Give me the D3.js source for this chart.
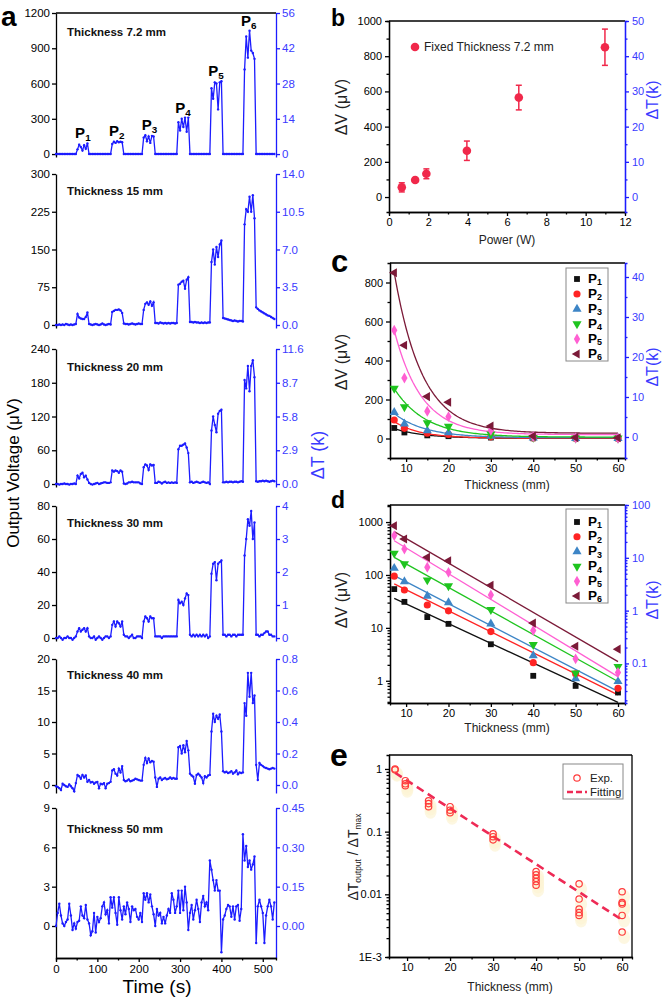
<!DOCTYPE html>
<html><head><meta charset="utf-8">
<script src="https://cdn.jsdelivr.net/npm/d3@7"></script>
<style>body{margin:0;background:#fff} svg{display:block} text{font-family:"Liberation Sans",Arial,sans-serif}</style>
</head><body><svg id="c" width="662" height="1000"></svg>
<script>
// ---------------- DATA ----------------
// panel a: output voltage (µV), one sample every timeStep seconds
const timeStep = 4;
const thicknessA = ["7.2", "15", "20", "30", "40", "50"];
const v72 = [0,0,0,0,0,0,0,0,0,0,0,0,0,
  40,80,60,30,75,45,90,
  0,0,0,0,0,0,0,0,0,0,0,0,0,0,
  85,105,95,110,100,105,100,
  0,0,0,0,0,0,0,0,0,0,0,0,
  140,160,110,150,95,155,150,
  0,0,0,0,0,0,0,0,0,0,0,0,0,0,
  270,200,300,230,310,190,310,
  0,0,0,0,0,0,0,0,0,0,0,0,0,
  560,470,610,600,380,610,620,
  0,0,0,0,0,0,0,0,0,0,0,0,0,
  720,1000,820,1050,880,860,810,
  0,0,0,0,0,0,0,0,0,0,0,0];
const v15 = [0,0,1,0,1,0,2,1,0,1,0,1,2,
  22,15,13,12,12,16,25,
  2,1,0,1,2,1,0,1,3,1,0,1,2,1,
  26,28,30,30,31,29,24,
  3,2,2,1,2,3,2,1,2,3,2,2,
  30,42,45,40,47,38,45,
  4,4,3,5,4,3,4,3,4,3,4,4,3,4,
  80,82,86,88,72,90,95,
  6,6,5,6,5,5,4,5,4,5,4,5,5,
  125,150,120,155,135,160,168,
  14,13,12,11,10,9,8,9,8,7,8,8,7,
  200,230,225,255,225,258,212,
  35,32,29,27,25,23,21,19,18,16,14,12];
const v20 = [0,0,-1,0,0,1,0,0,-1,0,0,1,0,
  15,10,18,20,12,15,8,
  2,0,-1,0,1,2,0,1,2,3,3,2,2,3,
  24,22,24,23,20,24,22,
  1,0,1,3,3,4,3,3,3,3,1,0,
  30,35,33,25,35,33,34,
  2,2,4,3,1,3,4,2,3,2,3,2,3,2,
  62,68,68,70,72,65,55,
  3,4,2,3,4,3,2,3,4,3,2,3,0,
  95,120,105,92,125,130,132,
  3,3,4,3,4,4,3,4,4,3,4,5,4,
  185,170,210,165,210,220,190,
  5,4,5,5,6,5,6,5,4,5,6,5];
const v30 = [0,0,1,0,-1,0,0,1,0,0,-1,0,1,
  4,6,4,5,6,4,6,
  1,0,0,1,-1,0,1,0,-1,0,1,1,0,1,
  8,10,7,10,9,7,10,
  2,1,1,0,1,2,0,0,1,1,1,0,
  10,13,12,10,13,12,12,
  1,1,1,1,0,1,1,1,1,1,1,1,1,1,
  23,21,22,20,24,27,26,
  2,1,2,1,2,1,2,1,2,1,2,0,1,
  39,45,46,35,45,46,47,
  2,2,1,2,2,1,2,2,1,2,2,2,2,
  50,60,72,68,77,60,70,
  2,2,1,2,2,3,4,4,2,2,1,1];
const v40 = [-0.2,-0.3,-0.5,-0.8,0.2,0,-0.2,-0.3,0.1,-0.2,-0.5,-1.0,0.3,
  1.6,1.4,1.0,1.6,1.2,1.5,0.5,
  0.8,0.4,0.5,0.2,0.4,0.5,-0.5,0.2,0.1,0.3,-0.5,0.2,0.3,0.5,
  2.3,2.5,1.8,1.5,2.6,2.0,3.0,
  0.8,0.6,0.7,0.9,0.6,0.7,0.8,1.0,0.9,0.8,0.7,0.7,
  3.2,4.3,3.5,4.2,3.6,3.8,3.7,
  1.2,-0.3,1.0,1.2,0.8,1.0,1.1,0.9,1.0,1.2,1.0,1.1,1.0,1.0,
  6.0,6.2,5.0,6.3,5.2,7.0,5.5,
  1.8,1.5,1.3,0.2,1.6,1.8,1.5,1.2,0.3,1.4,1.2,1.5,1.6,
  8.5,11.3,10.0,11.0,10.5,11.2,8.5,
  2.2,2.0,2.1,1.9,2.0,2.2,1.8,2.0,2.3,1.7,2.0,1.9,2.0,
  13,11,17.8,14,17.8,13,14.2,
  3.2,0.8,3.5,3.2,3.0,2.8,2.7,2.6,2.5,2.6,2.7,2.6];
const v50 = [0.0,1.0,1.7,0.8,0.2,0.0,0.3,0.5,1.7,0.8,-0.3,0.2,-0.2,0.3,0.4,1.5,0.8,0.6,1.6,0.5,
  0.2,-0.7,-0.4,1.0,-0.5,0.7,0.3,0.6,1.5,1.8,0.9,1.2,0.2,2.2,1.4,2.2,1.0,0.1,2.2,1.2,
  0.5,1.5,0.9,1.8,1.3,0.3,1.5,1.2,1.3,0.7,0.5,1.0,0.3,2.5,2.0,2.5,1.8,2.4,1.5,0.9,
  0.0,1.3,0.8,1.0,0.2,0.7,0.2,0.8,1.3,1.0,2.5,2.0,1.0,1.5,2.7,1.0,2.7,1.2,3.0,1.8,
  -0.3,1.0,1.6,0.5,1.2,2.0,1.3,0.3,1.8,2.3,1.5,1.8,1.2,5.0,4.3,3.5,2.7,3.5,2.7,2.7,
  -2.0,0.5,0.8,1.3,1.6,1.5,0.7,1.5,0.5,1.5,1.6,0.4,1.3,7.0,5.0,6.1,4.5,5.0,4.3,4.7,
  5.3,-1.3,1.5,2.0,1.5,1.0,-1.3,0.8,1.5,2.0,1.5,0.5,1.8];
const leftTicksA = [[0,300,600,900,1200],[0,75,150,225,300],[0,60,120,180,240],[0,20,40,60,80],[0,5,10,15,20],[0,3,6,9]];
const rightTicksA = [[0,14,28,42,56],[0,3.5,7,10.5,14],[0,2.9,5.8,8.7,11.6],[0,1,2,3,4],[0,0.2,0.4,0.6,0.8],[0,0.15,0.3,0.45]];
const peakNames = ["1","2","3","4","5","6"];
const peakTimes = [65,147,226,307,387,466];
const timeTicks = [0,100,200,300,400,500];

// panel b
const powerW = [0.65,1.33,1.9,3.96,6.6,10.98];
const dVpower = [55,97,132,263,565,851];
const dVerr = [26,12,28,55,70,103];

// panels c, d
const thickness = [7.2,9.6,15,20,30,40,50,60];
const seriesNames = ["P1","P2","P3","P4","P5","P6"];
const dV_P1 = [54,31,16,11.9,4.9,1.24,0.8,0.6];
const dV_P2 = [95,52,27,21,8.5,2.2,1.35,0.72];
const dV_P3 = [134,75,40,30,11.9,3.0,1.1,0.97];
const dV_P4 = [257,162,80,62,22,4.8,1.4,1.86];
const dV_P5 = [555,310,140,112,42,8.9,2.6,1.43];
const dV_P6 = [850,478,215,186,64,12.3,4.5,3.96];
// exponential-decay fits in c: y0 + A*exp(-(x-7.2)/t)
const fitC_y0 = [1,2,4,7,20,27];
const fitC_A = [50,85,124,249,534,823];
const fitC_t = [7,6,7.3,7.4,6.4,6.6];
// straight fits in d (log scale): value at 7.2 mm and at 60 mm
const fitD_start = [36,68,97,215,444,660];
const fitD_end = [0.39,0.54,0.63,0.97,1.2,2.3];

// panel e
const expThick = [7.2,7.2,9.6,9.6,9.6,15,15,15,20,20,20,30,30,30,40,40,40,40,40,50,50,50,50,50,60,60,60,60,60];
const expRatio = [1.0,0.97,0.65,0.58,0.54,0.31,0.28,0.25,0.25,0.22,0.2,0.092,0.083,0.074,0.023,0.0204,0.018,0.016,0.014,0.0147,0.0084,0.0058,0.0051,0.0046,0.011,0.0074,0.007,0.0046,0.0025];
const fitE_x = [7.2,60];
const fitE_y = [0.87,0.0039];

// ---------------- DRAWING ----------------
const svg = d3.select("#c");
const BLUE = "#1c1cff";
const BLUET = "#3a3aff";
const colors = ["#111111","#ff2424","#3d85c6","#1fc41f","#ff5fd2","#7b1a38"];
const symbols = [
  {t:d3.symbolSquare, r:0, s:34},
  {t:d3.symbolCircle, r:0, s:40},
  {t:d3.symbolTriangle, r:0, s:36},
  {t:d3.symbolTriangle, r:180, s:36},
  {t:d3.symbolDiamond, r:0, s:34},
  {t:d3.symbolTriangle, r:-90, s:36}
];
const intFmt = d3.format("d");

function styleAxis(g, color, fs) {
  g.selectAll("path,line").attr("stroke", color).attr("stroke-width", 1.3);
  g.selectAll("text").attr("fill", color).attr("font-size", fs).attr("font-family", "Liberation Sans, Arial, sans-serif");
}
function minor(g, axisFn, vals) {
  g.append("g").call(axisFn.tickValues(vals).tickSize(2.5).tickFormat(""));
}
function subLabel(g, x, y, base, sub, fs, anchor) {
  const t = g.append("text").attr("x", x).attr("y", y).attr("text-anchor", anchor || "start")
    .attr("font-family", "Liberation Serif, Times New Roman, serif").attr("font-weight", "bold").attr("font-size", fs);
  t.append("tspan").text(base);
  t.append("tspan").attr("font-size", fs * 0.66).attr("dy", fs * 0.2).text(sub);
  return t;
}
function panelLetter(x, y, ch, fs) {
  svg.append("text").attr("x", x).attr("y", y).attr("font-size", fs).attr("font-weight", "bold")
    .attr("font-family", "Liberation Sans, Arial, sans-serif").text(ch);
}

// ---- panel a ----
const xA = d3.scaleLinear().domain([0, 532]).range([56, 276]);
const aCfg = [
  {v:v72, dom:[-25,1200], top:13, bot:157, k:56/1200, fmt:".0f", ty:36},
  {v:v15, dom:[-6,300], top:174, bot:328, k:14/300, fmt:".1f", ty:195},
  {v:v20, dom:[-5.3,240], top:349, bot:487, k:11.6/240, fmt:".1f", ty:371},
  {v:v30, dom:[-1.8,80], top:506, bot:641, k:4/80, fmt:".0f", ty:527},
  {v:v40, dom:[-1.27,20], top:659, bot:793, k:0.8/20, fmt:".1f", ty:679},
  {v:v50, dom:[-2.44,9], top:808, bot:958, k:0.45/9, fmt:".2f", ty:833}
];
aCfg.forEach((c, p) => {
  const g = svg.append("g");
  const y = d3.scaleLinear().domain(c.dom).range([c.bot, c.top]);
  const yR = d3.scaleLinear().domain(c.dom.map(d => d * c.k)).range([c.bot, c.top]);
  const la = g.append("g").attr("transform", "translate(56,0)")
    .call(d3.axisLeft(y).tickValues(leftTicksA[p]).tickSize(4).tickSizeOuter(0).tickPadding(2).tickFormat(intFmt));
  styleAxis(la, "#000", 11.5);
  const ra = g.append("g").attr("transform", "translate(276,0)")
    .call(d3.axisRight(yR).tickValues(rightTicksA[p]).tickSize(4).tickSizeOuter(0).tickPadding(2).tickFormat(d3.format(c.fmt)));
  styleAxis(ra, BLUE, 11.5);
  ra.selectAll("text").attr("fill", BLUET);
  const line = d3.line().x((d, i) => xA(i * timeStep)).y(d => y(d));
  g.append("path").datum(c.v).attr("d", line).attr("fill", "none").attr("stroke", BLUE).attr("stroke-width", 1.3);
  g.selectAll("circle.pt").data(c.v).join("circle").attr("cx", (d, i) => xA(i * timeStep)).attr("cy", d => y(d))
    .attr("r", 1.2).attr("fill", BLUE);
  g.append("text").attr("x", 67).attr("y", c.ty).attr("font-family", "Open Sans, sans-serif").attr("font-weight", "bold")
    .attr("font-size", 11.5).attr("fill", "#111").text("Thickness " + thicknessA[p] + " mm");
  if (p === 0) {
    g.append("line").attr("x1", 56).attr("x2", 276).attr("y1", c.top).attr("y2", c.top).attr("stroke", "#000").attr("stroke-width", 1.3);
    peakTimes.forEach((t, j) => {
      const i0 = Math.round((t - 14) / timeStep), i1 = Math.round((t + 14) / timeStep);
      const mx = d3.max(c.v.slice(i0, i1 + 1));
      subLabel(g, xA(t), y(mx) - 5, "P", peakNames[j], 15, "middle");
    });
  }
  if (p === 5) {
    const xa = g.append("g").attr("transform", `translate(0,${c.bot})`)
      .call(d3.axisBottom(xA).tickValues(timeTicks).tickSize(4).tickSizeOuter(0).tickPadding(3));
    styleAxis(xa, "#000", 11.5);
    minor(xa, d3.axisBottom(xA), [50,150,250,350,450]);
    xa.selectAll("path,line").attr("stroke", "#000").attr("stroke-width", 1.3);
  }
});
svg.append("text").attr("transform", "translate(19,473) rotate(-90)").attr("text-anchor", "middle")
  .attr("font-size", 17).text("Output Voltage (μV)");
svg.append("text").attr("transform", "translate(324,455) rotate(-90)").attr("text-anchor", "middle")
  .attr("font-size", 18).attr("fill", BLUET).text("ΔT (k)");
svg.append("text").attr("x", 157).attr("y", 993).attr("text-anchor", "middle").attr("font-size", 19).text("Time (s)");
panelLetter(1, 26, "a", 28);

// ---- generic right-panel frame ----
function frame(x, y, opt) {
  const g = svg.append("g");
  const [x0, x1] = x.range(), [yb, yt] = y.range();
  const ba = g.append("g").attr("transform", `translate(0,${yb})`)
    .call(d3.axisBottom(x).tickValues(opt.xt).tickSize(4).tickSizeOuter(0).tickPadding(2));
  if (opt.xm) minor(ba, d3.axisBottom(x), opt.xm);
  styleAxis(ba, "#000", 11);
  const la = g.append("g").attr("transform", `translate(${x0},0)`)
    .call(d3.axisLeft(y).tickValues(opt.yt).tickSize(4).tickSizeOuter(0).tickPadding(3).tickFormat(opt.yf || intFmt));
  if (opt.ym) minor(la, d3.axisLeft(y), opt.ym);
  styleAxis(la, "#000", 11);
  g.append("line").attr("x1", x0).attr("x2", x1).attr("y1", yt).attr("y2", yt).attr("stroke", "#000").attr("stroke-width", 1.3);
  if (opt.yR) {
    const ra = g.append("g").attr("transform", `translate(${x1},0)`)
      .call(d3.axisRight(opt.yR).tickValues(opt.rt).tickSize(4).tickSizeOuter(0).tickPadding(3).tickFormat(opt.rf || intFmt));
    if (opt.rm) minor(ra, d3.axisRight(opt.yR), opt.rm);
    styleAxis(ra, BLUE, 11);
    ra.selectAll("text").attr("fill", BLUET);
  } else {
    g.append("line").attr("x1", x1).attr("x2", x1).attr("y1", yt).attr("y2", yb).attr("stroke", "#000").attr("stroke-width", 1.3);
  }
  return g;
}
function yLabel(x, y, s, color, fs) {
  svg.append("text").attr("transform", `translate(${x},${y}) rotate(-90)`).attr("text-anchor", "middle")
    .attr("font-size", fs || 16).attr("fill", color || "#222").text(s);
}
function xLabel(x, y, s) {
  svg.append("text").attr("x", x).attr("y", y).attr("text-anchor", "middle").attr("font-size", 12).attr("fill", "#222").text(s);
}
function logMinors(lo, hi) {
  const out = [];
  for (let e = -4; e <= 4; e++) for (let m = 2; m <= 9; m++) { const v = m * Math.pow(10, e); if (v > lo && v < hi) out.push(v); }
  return out;
}

// ---- panel b ----
{
  const x = d3.scaleLinear().domain([0, 12]).range([389, 625]);
  const y = d3.scaleLinear().domain([-85, 1000]).range([212, 21]);
  const yR = d3.scaleLinear().domain([-4.25, 50]).range([212, 21]);
  frame(x, y, {xt:[0,2,4,6,8,10,12], xm:[1,3,5,7,9,11], yt:[0,200,400,600,800,1000], ym:[100,300,500,700,900],
    yR, rt:[0,10,20,30,40,50], rm:[5,15,25,35,45]});
  const red = "#f0284a";
  const g = svg.append("g");
  powerW.forEach((p, i) => {
    const cx = x(p);
    g.append("line").attr("x1", cx).attr("x2", cx).attr("y1", y(dVpower[i] - dVerr[i])).attr("y2", y(dVpower[i] + dVerr[i])).attr("stroke", red).attr("stroke-width", 1.5);
    [dVpower[i] - dVerr[i], dVpower[i] + dVerr[i]].forEach(v => g.append("line").attr("x1", cx - 3).attr("x2", cx + 3).attr("y1", y(v)).attr("y2", y(v)).attr("stroke", red).attr("stroke-width", 1.5));
    g.append("circle").attr("cx", cx).attr("cy", y(dVpower[i])).attr("r", 4.3).attr("fill", red);
  });
  g.append("circle").attr("cx", 415).attr("cy", 47).attr("r", 4.3).attr("fill", red);
  g.append("text").attr("x", 424).attr("y", 51).attr("font-size", 12).attr("fill", "#222").text("Fixed Thickness 7.2 mm");
  xLabel(507, 244, "Power (W)");
  yLabel(347, 107, "ΔV (μV)");
  yLabel(658, 100, "ΔT(k)", BLUET);
  panelLetter(331, 26, "b", 23);
}

const allSeries = [dV_P1, dV_P2, dV_P3, dV_P4, dV_P5, dV_P6];
function drawMarkers(g, x, y) {
  allSeries.forEach((s, k) => {
    const sym = d3.symbol().type(symbols[k].t).size(symbols[k].s);
    g.selectAll(null).data(s).join("path").attr("d", sym)
      .attr("transform", (d, i) => `translate(${x(thickness[i])},${y(d)}) rotate(${symbols[k].r})`).attr("fill", colors[k]);
  });
}
function legendP(x0, y0, w, h, rowY0, dy) {
  const g = svg.append("g");
  g.append("rect").attr("x", x0).attr("y", y0).attr("width", w).attr("height", h).attr("fill", "#fff").attr("stroke", "#888").attr("stroke-width", 1);
  seriesNames.forEach((n, k) => {
    const yy = rowY0 + k * dy;
    g.append("path").attr("d", d3.symbol().type(symbols[k].t).size(symbols[k].s))
      .attr("transform", `translate(${x0 + 11},${yy}) rotate(${symbols[k].r})`).attr("fill", colors[k]);
    subLabel(g, x0 + 22, yy + 3.5, n[0], n[1], 13.5);
  });
}

// ---- panel c ----
{
  const x = d3.scaleLinear().domain([6.2, 61.65]).range([390, 625]);
  const y = d3.scaleLinear().domain([-100, 900]).range([458, 263]);
  const yR = d3.scaleLinear().domain([-5.25, 43.5]).range([458, 263]);
  frame(x, y, {xt:[10,20,30,40,50,60], xm:[15,25,35,45,55], yt:[0,200,400,600,800], ym:[100,300,500,700],
    yR, rt:[0,10,20,30,40], rm:[5,15,25,35]});
  const g = svg.append("g");
  const xs = d3.range(7.2, 60.01, 0.4);
  fitC_A.forEach((A, k) => {
    const line = d3.line().x(d => x(d)).y(d => y(fitC_y0[k] + A * Math.exp(-(d - 7.2) / fitC_t[k])));
    g.append("path").datum(xs).attr("d", line).attr("fill", "none").attr("stroke", colors[k]).attr("stroke-width", 1.3);
  });
  drawMarkers(g, x, y);
  legendP(566, 268, 42, 93, 279, 15);
  xLabel(507, 489, "Thickness (mm)");
  yLabel(347, 362, "ΔV (μV)");
  yLabel(658, 367, "ΔT(k)", BLUET);
  panelLetter(331, 272, "c", 31);
}

// ---- panel d ----
{
  const x = d3.scaleLinear().domain([6.2, 61.65]).range([390, 625]);
  const y = d3.scaleLog().domain([0.38, 2100]).range([703, 505]);
  const yR = d3.scaleLog().domain([0.0178, 100]).range([703, 505]);
  frame(x, y, {xt:[10,20,30,40,50,60], xm:[15,25,35,45,55], yt:[1,10,100,1000], yf:intFmt, ym:logMinors(0.38, 2100),
    yR, rt:[0.1,1,10,100], rf:(d) => d < 1 ? "0.1" : intFmt(d), rm:logMinors(0.0178, 100)});
  const g = svg.append("g");
  fitD_start.forEach((s, k) => {
    g.append("line").attr("x1", x(7.2)).attr("y1", y(s)).attr("x2", x(60)).attr("y2", y(fitD_end[k]))
      .attr("stroke", colors[k]).attr("stroke-width", 1.3);
  });
  drawMarkers(g, x, y);
  legendP(566, 509, 42, 94, 522, 14.8);
  xLabel(507, 732, "Thickness (mm)");
  yLabel(347, 600, "ΔV (μV)");
  yLabel(658, 600, "ΔT(k)", BLUET);
  panelLetter(331, 508, "d", 23);
}

// ---- panel e ----
{
  const x = d3.scaleLinear().domain([5.8, 62.3]).range([389, 632]);
  const y = d3.scaleLog().domain([0.001, 1.67]).range([957, 755]);
  frame(x, y, {xt:[10,20,30,40,50,60], xm:[15,25,35,45,55], yt:[0.001,0.01,0.1,1],
    yf:(d) => d === 0.001 ? "1E-3" : d === 1 ? "1" : String(d), ym:logMinors(0.001, 1.67)});
  const g = svg.append("g");
  const red = "#ff3b3b";
  g.selectAll(null).data(expRatio).join("ellipse").attr("cx", (d, i) => x(expThick[i]) + 2).attr("cy", d => y(d) + 5)
    .attr("rx", 6).attr("ry", 7).attr("fill", "#fcf4d4").attr("opacity", 0.7);
  g.append("path").datum(fitE_x.map((d, i) => [d, fitE_y[i]])).attr("d", d3.line().x(d => x(d[0])).y(d => y(d[1])))
    .attr("stroke", "#ee2a55").attr("stroke-width", 2.6).attr("stroke-dasharray", "8,5").attr("fill", "none");
  g.selectAll(null).data(expRatio).join("circle").attr("cx", (d, i) => x(expThick[i])).attr("cy", d => y(d))
    .attr("r", 3.2).attr("fill", "none").attr("stroke", red).attr("stroke-width", 1.2);
  // legend
  g.append("rect").attr("x", 563).attr("y", 764).attr("width", 60).attr("height", 35).attr("fill", "#fff").attr("stroke", "#888");
  g.append("circle").attr("cx", 577).attr("cy", 778).attr("r", 3.2).attr("fill", "none").attr("stroke", red).attr("stroke-width", 1.2);
  g.append("text").attr("x", 590).attr("y", 782).attr("font-size", 11.5).attr("fill", "#222").text("Exp.");
  g.append("line").attr("x1", 567).attr("x2", 587).attr("y1", 792).attr("y2", 792).attr("stroke", "#ee2a55").attr("stroke-width", 2.4).attr("stroke-dasharray", "6,3");
  g.append("text").attr("x", 590).attr("y", 796).attr("font-size", 11.5).attr("fill", "#222").text("Fitting");
  xLabel(510, 991, "Thickness (mm)");
  const t = svg.append("text").attr("transform", "translate(358,857) rotate(-90)").attr("text-anchor", "middle").attr("font-size", 14).attr("fill", "#222");
  t.append("tspan").text("ΔT");
  t.append("tspan").attr("font-size", 8.5).attr("dy", 3).text("output");
  t.append("tspan").attr("dy", -3).text(" / ΔT");
  t.append("tspan").attr("font-size", 8.5).attr("dy", 3).text("max");
  panelLetter(330, 766, "e", 32);
}
</script>
</body></html>
